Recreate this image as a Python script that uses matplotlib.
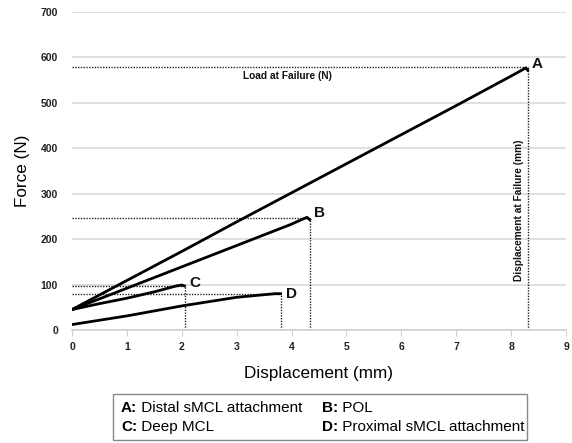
import matplotlib
matplotlib.use("Agg")
import matplotlib.pyplot as plt
from matplotlib.patches import Rectangle

plt.rcParams['font.family'] = ['Liberation Sans', 'DejaVu Sans']

# Curves (displacement mm, force N)
a_x = [0, 1, 2, 3, 4, 5, 6, 7, 8.0, 8.27, 8.3]
a_y = [45, 109, 173, 238, 302, 366, 430, 494, 559, 577, 572]
b_x = [0, 1, 2, 3, 4, 4.2, 4.28, 4.33]
b_y = [45, 92, 139, 186, 233, 244, 248, 243]
c_x = [0, 0.5, 1.0, 1.5, 1.9, 2.0, 2.05]
c_y = [45, 58, 70, 84, 97, 99, 97]
d_x = [0, 1, 2, 3, 3.7, 3.8]
d_y = [12, 31, 53, 72, 80, 80]

labels = ["A", "B", "C", "D"]
fail_x = [8.3, 4.33, 2.05, 3.8]
fail_y = [578, 247, 97, 80]

legend_items = [("A:", " Distal sMCL attachment"), ("B:", " POL"),
                ("C:", " Deep MCL"), ("D:", " Proximal sMCL attachment")]

W, H = 572, 443
fig = plt.figure(figsize=(5.72, 4.43), dpi=100)
ax = fig.add_axes([72/W, 1-330/H, (566-72)/W, (330-12)/H])

ax.set_xlim(0, 9)
ax.set_ylim(0, 700)
ax.set_xticks(range(0, 10))
ax.set_yticks(range(0, 800, 100))
ax.yaxis.grid(True, color='#d9d9d9', linewidth=1.2)
ax.set_axisbelow(True)
for s in ['top', 'right', 'left']:
    ax.spines[s].set_visible(False)
ax.spines['bottom'].set_color('#d0d0d0')
ax.spines['bottom'].set_linewidth(1.2)
ax.tick_params(axis='x', colors='#d0d0d0', length=4, labelcolor='#222222', pad=5)
ax.tick_params(axis='y', length=0, labelcolor='#222222', pad=10)
for lab in ax.get_xticklabels() + ax.get_yticklabels():
    lab.set_fontweight('bold')
    lab.set_fontsize(7.5)

# Failure dotted lines
for fx, fy in zip(fail_x, fail_y):
    ax.plot([0, fx], [fy, fy], color='#222222', linestyle=(0, (1, 1)), linewidth=1.0, zorder=2)
    ax.plot([fx, fx], [0, fy], color='#222222', linestyle=(0, (1, 1)), linewidth=1.0, zorder=2)

for xs, ys in [(a_x, a_y), (b_x, b_y), (c_x, c_y), (d_x, d_y)]:
    ax.plot(xs, ys, color='black', linewidth=2.0, zorder=3, solid_joinstyle='round')

offs = [(0.08, 8), (0.08, 10), (0.08, 6), (0.1, 0)]
for lab, fx, fy, (dx, dy) in zip(labels, fail_x, fail_y, offs):
    ax.text(fx + dx, fy + dy, lab, fontsize=11, fontweight='bold', ha='left', va='center', color='#111111')

ax.text(3.92, 560, "Load at Failure (N)", fontsize=7.3, fontweight='bold', ha='center', va='center', color='#111111')
ax.text(8.14, 264, "Displacement at Failure (mm)", fontsize=7.3, fontweight='bold', rotation=90,
        ha='center', va='center', color='#111111')

ax.set_xlabel("Displacement (mm)", fontsize=12.3, labelpad=10)
ax.set_ylabel("Force (N)", fontsize=12.3, labelpad=8)

# Legend box
fig.patches.append(Rectangle((113/W, 1-440/H), (527-113)/W, (440-394)/H,
                             transform=fig.transFigure, fill=False, edgecolor='#888888', linewidth=1.0))
pos = [(121, 408), (322, 408), (121, 427), (322, 427)]
fig.canvas.draw()
for (k, t), (px, py) in zip(legend_items, pos):
    tk = fig.text(px/W, 1-py/H, k, fontsize=11, fontweight='bold', ha='left', va='center')
    fig.canvas.draw()
    bb = tk.get_window_extent()
    fig.text(bb.x1/W, 1-py/H, t, fontsize=11, ha='left', va='center')

fig.savefig("out.png", dpi=100)
